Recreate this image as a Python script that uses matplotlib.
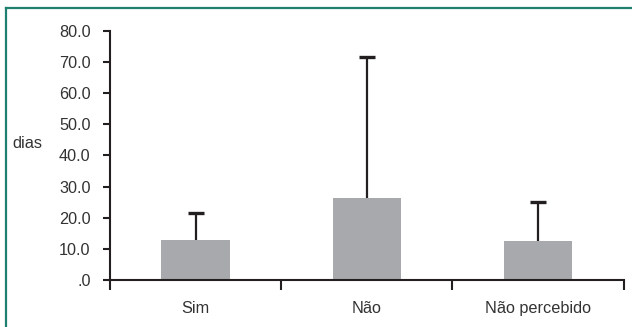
import matplotlib

matplotlib.use("Agg")
import matplotlib.pyplot as plt
from matplotlib.lines import Line2D
from matplotlib.ticker import FuncFormatter

categories = ["Sim", "Não", "Não percebido"]
mean_days = [12.8, 26.3, 12.5]
sd_days = [8.6, 45.1, 12.4]
y_ticks = [0, 10, 20, 30, 40, 50, 60, 70, 80]

BAR_COLOR = "#a7a9ac"
INK = "#231f20"
TEXT = "#333333"
FRAME = "#1f8070"

plt.rcParams["font.family"] = ["Liberation Sans", "DejaVu Sans"]

W, H = 632, 327
fig = plt.figure(figsize=(W / 100, H / 100), dpi=100)
ax = fig.add_axes([110 / W, 1 - 280 / H, (623.5 - 110) / W, (280 - 30.7) / H])

x = list(range(len(categories)))
ax.bar(x, mean_days, width=0.4, color=BAR_COLOR, zorder=2)
_, caps, _ = ax.errorbar(x, mean_days, yerr=[[0] * len(sd_days), sd_days], fmt="none",
                         ecolor=INK, elinewidth=1.6, capsize=5.5, capthick=2.4, zorder=1)
# only the upper whisker gets a cap
caps[0].set_visible(False)

ax.set_xlim(-0.5, len(categories) - 0.5)
ax.set_ylim(0, 80)
ax.set_yticks(y_ticks)
ax.yaxis.set_major_formatter(FuncFormatter(lambda v, _: ".0" if v == 0 else f"{v:.1f}"))

ax.set_xticks(x)
ax.set_xticklabels(categories)
ax.set_xticks([i - 0.5 for i in range(len(categories) + 1)], minor=True)

for side in ("top", "right"):
    ax.spines[side].set_visible(False)
for side in ("left", "bottom"):
    ax.spines[side].set_linewidth(1.5)
    ax.spines[side].set_color(INK)

ax.tick_params(axis="y", direction="out", length=5, width=1.5, color=INK,
               labelsize=11.7, labelcolor=TEXT, pad=9)
ax.tick_params(axis="x", which="major", length=0, labelsize=11.7, labelcolor=TEXT, pad=15)
ax.tick_params(axis="x", which="minor", direction="out", length=7, width=1.5, color=INK)

fig.text(12 / W, 1 - 143 / H, "dias", fontsize=11.7, color=TEXT, va="center", ha="left")

# green frame around the figure (top and left edges)
fig.add_artist(Line2D([6 / W, 1], [1 - 8 / H, 1 - 8 / H], transform=fig.transFigure,
                      color=FRAME, linewidth=1.6))
fig.add_artist(Line2D([6 / W, 6 / W], [0, 1 - 8 / H], transform=fig.transFigure,
                      color=FRAME, linewidth=1.6))

fig.savefig("out.png", dpi=100)
